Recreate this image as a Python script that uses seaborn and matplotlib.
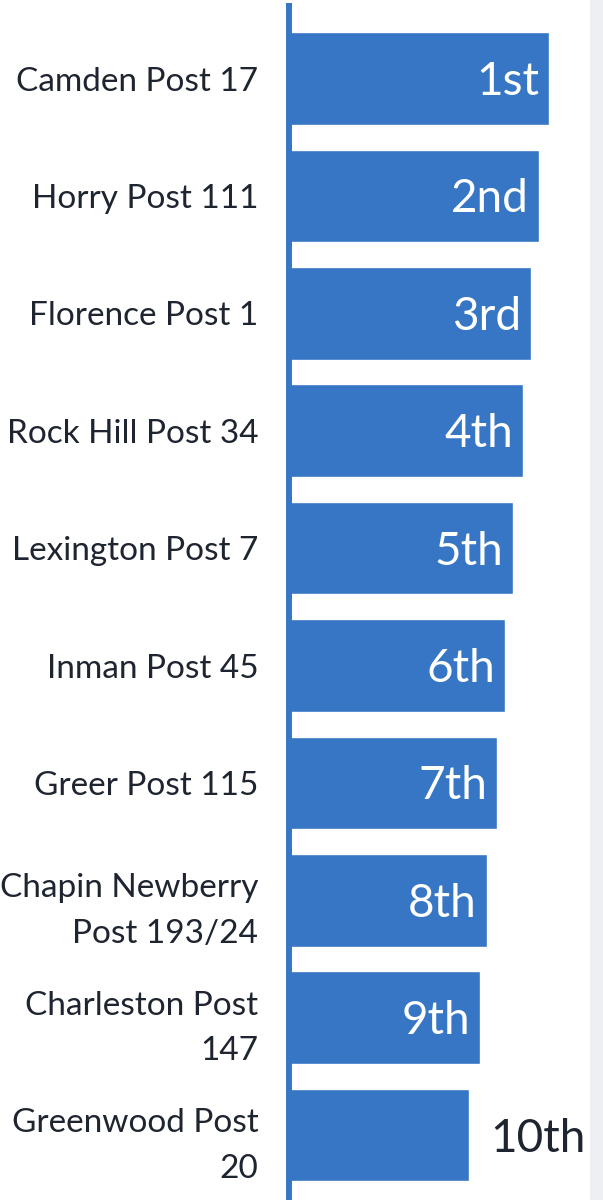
import matplotlib
matplotlib.use("Agg")
import matplotlib.pyplot as plt
import seaborn as sns
import pandas as pd
from matplotlib.patches import Rectangle

# post names and bar lengths (arbitrary units)
posts = [
    "Camden Post 17",
    "Horry Post 111",
    "Florence Post 1",
    "Rock Hill Post 34",
    "Lexington Post 7",
    "Inman Post 45",
    "Greer Post 115",
    "Chapin Newberry\nPost 193/24",
    "Charleston Post\n147",
    "Greenwood Post\n20",
]
scores = [260, 250, 242, 234, 224, 216, 208, 198, 191, 180]
ranks = ["1st", "2nd", "3rd", "4th", "5th", "6th", "7th", "8th", "9th", "10th"]

BLUE = "#3676c5"
TEXT = "#1e2530"

df = pd.DataFrame({"post": posts, "score": scores, "rank": ranks})

sns.set_style("white")
plt.rcParams["font.family"] = ["Lato", "DejaVu Sans"]

fig = plt.figure(figsize=(6.03, 12), dpi=100)
ax = fig.add_axes([289 / 603, 0, 301 / 603, 1])

sns.barplot(data=df, x="score", y="post", orient="h", color=BLUE,
            saturation=1, width=0.79, ax=ax)

ax.set_xlim(0, 301)
ax.set_ylim(9.553, -0.669)
ax.set_xlabel("")
ax.set_ylabel("")
ax.set_xticks([])
ax.tick_params(axis="y", length=0, pad=22, labelsize=24, labelcolor=TEXT)
for lbl in ax.get_yticklabels():
    lbl.set_horizontalalignment("right")
    lbl.set_linespacing(1.65)

for side in ["top", "right", "bottom"]:
    ax.spines[side].set_visible(False)
ax.spines["left"].set_color(BLUE)
ax.spines["left"].set_linewidth(4.3)
ax.spines["left"].set_bounds(9.553, -0.615)

# rank labels: inside the bar, except the last one
for i, (s, r) in enumerate(zip(scores, ranks)):
    if i < len(scores) - 1:
        ax.text(s - 10, i + 0.03, r, ha="right", va="center",
                fontsize=33, color="white")
    else:
        ax.text(s + 21, i + 0.03, r, ha="left", va="center",
                fontsize=33, color=TEXT)

# light grey strip at the right edge
fig.add_artist(Rectangle((590 / 603, 0), 13 / 603, 1, transform=fig.transFigure,
                         facecolor="#eeeff2", edgecolor="none"))

fig.savefig("out.png", dpi=100)
